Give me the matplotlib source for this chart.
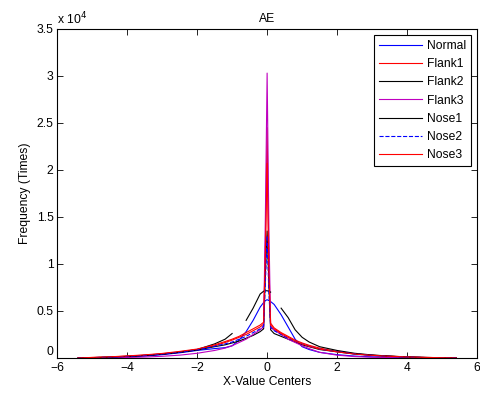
import numpy as np
import matplotlib.pyplot as plt

plt.rcParams['font.family'] = ['Liberation Sans', 'DejaVu Sans']
plt.rcParams['font.size'] = 8.7

# bin centers
x = [-5.4, -5.0, -4.5, -4.0, -3.5, -3.0, -2.5, -2.0, -1.5, -1.2, -1.0, -0.8, -0.6, -0.4,
     -0.2, -0.1, -0.05, 0.0, 0.05, 0.1, 0.2, 0.4, 0.6, 0.8, 1.0, 1.2, 1.5, 2.0, 2.5, 3.0,
     3.5, 4.0, 4.5, 5.0, 5.4]

normal = [0, 20, 50, 100, 200, 350, 550, 800, 1000, 1100, 1300, 1900, 2800, 4000,
          5400, 5900, 6100, 6200, 6100, 6000, 5700, 4600, 3300, 2000, 1200, 900, 600, 350, 200, 120,
          70, 40, 20, 10, 0]
flank1 = [0, 50, 100, 200, 300, 450, 650, 900, 1300, 1650, 1900, 2200, 2500, 2900,
          3300, 3600, 12000, 24500, 10000, 3700, 3200, 2700, 2300, 1900, 1600, 1350, 1050, 700, 450, 300,
          200, 120, 60, 30, 0]
flank2 = [0, 30, 80, 150, 250, 400, 600, 850, 1200, 1400, 1600, 1800, 2100, 2400,
          2800, 3100, 9000, 13500, 8000, 3000, 2600, 2300, 2000, 1700, 1400, 1200, 900, 650, 420, 280,
          180, 100, 50, 20, 0]
flank3 = [0, 10, 30, 60, 100, 180, 300, 500, 800, 1050, 1300, 1650, 2000, 2500,
          3000, 3300, 15000, 30300, 14000, 3200, 3000, 2500, 2000, 1650, 1300, 1000, 600, 300, 150, 80,
          40, 20, 10, 5, 0]
nose1 = [0, 40, 90, 170, 280, 420, 620, 900, 1500, 2000, 2600, np.nan, 4000, 5300,
         6800, 7100, 7150, 7150, 7100, 7000, np.nan, 5300, 4300, 3000, 2200, 1700, 1200, 800, 500, 320,
         200, 110, 60, 30, 0]
nose2 = [0, 40, 90, 180, 280, 420, 620, 880, 1250, 1500, 1700, 2000, 2300, 2700,
         3100, 3400, 8000, 13000, 7000, 3300, 2900, 2500, 2100, 1800, 1500, 1250, 950, 680, 430, 280,
         170, 100, 50, 20, 0]
nose3 = [0, 60, 120, 220, 330, 480, 700, 950, 1400, 1750, 2000, 2300, 2700, 3100,
         3500, 3800, 11000, 20700, 9000, 3500, 3100, 2600, 2200, 1800, 1500, 1250, 950, 650, 420, 280,
         180, 110, 60, 30, 0]

series = [
    ('Normal', normal, 'b', '-'),
    ('Flank1', flank1, 'r', '-'),
    ('Flank2', flank2, 'k', '-'),
    ('Flank3', flank3, 'm', '-'),
    ('Nose1', nose1, 'k', '-'),
    ('Nose2', nose2, 'b', '--'),
    ('Nose3', nose3, 'r', '-'),
]

fig = plt.figure(figsize=(4.8, 3.96), dpi=100)
ax = fig.add_axes([0.119, 0.096, 0.875, 0.831])

for name, y, c, ls in series:
    ax.plot(x, y, color=c, linestyle=ls, linewidth=0.8, label=name)

ax.set_xlim(-6, 6)
ax.set_ylim(0, 35000)
ax.set_xticks(range(-6, 7, 2))
yt = np.arange(0, 35001, 5000)
ax.set_yticks(yt)
ax.set_yticklabels(['0', '0.5', '1', '1.5', '2', '2.5', '3', '3.5'])
ax.get_yticklabels()[0].set_verticalalignment('bottom')
ax.tick_params(direction='in', top=True, right=True, length=4, width=0.6, pad=2.5)
ax.tick_params(axis='x', pad=3)
for s in ax.spines.values():
    s.set_linewidth(0.8)
ax.text(0.0, 1.005, r'x 10$^4$', transform=ax.transAxes, ha='left', va='bottom')

ax.set_title('AE', fontsize=8.7, pad=5)
ax.set_xlabel('X-Value Centers', labelpad=1)
ax.set_ylabel('Frequency (Times)', labelpad=4)

leg = ax.legend(loc='upper right', fancybox=False, edgecolor='k', framealpha=1,
                handlelength=3.6, handletextpad=0.4, borderaxespad=0.5, labelspacing=0.52)
leg.get_frame().set_linewidth(0.8)

fig.savefig('out.png', dpi=100)
